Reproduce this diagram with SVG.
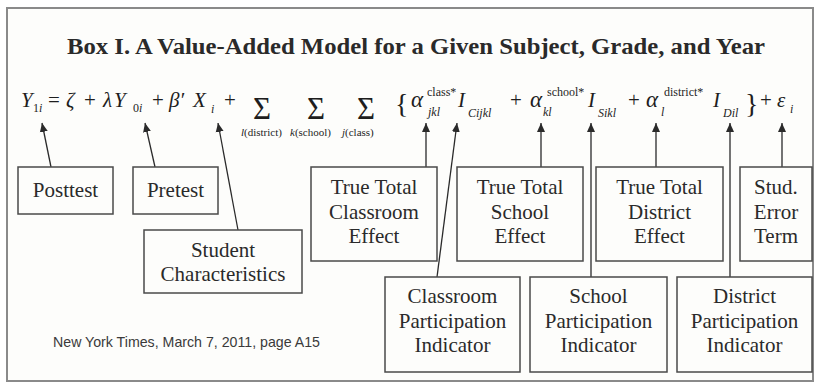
<svg xmlns="http://www.w3.org/2000/svg" width="814" height="383" viewBox="0 0 814 383" font-family="'Liberation Serif', 'Times New Roman', Times, serif">
<defs>
<marker id="ah" markerWidth="10" markerHeight="10" refX="9" refY="5" orient="auto" markerUnits="userSpaceOnUse">
<path d="M0,1 L9,5 L0,9 Z" fill="#2a2a2a"/>
</marker>
</defs>
<rect x="7" y="8" width="806" height="373" fill="#fdfdfb" stroke="#8a8a8a" stroke-width="2"/>
<text font-family="Liberation Serif" font-size="24" font-weight="bold" fill="#2a2a2a" x="67" y="54" textLength="698" lengthAdjust="spacingAndGlyphs">Box I.  A Value-Added Model for a Given Subject, Grade, and Year</text>

<g id="equation" fill="#1e1e1e">
<text font-family="Liberation Serif" font-size="21" font-style="italic" x="21" y="107">Y</text>
<text font-family="Liberation Serif" font-size="12" x="33" y="112">1<tspan font-style="italic">i</tspan></text>
<text font-family="Liberation Serif" font-size="21" x="48" y="107">=</text>
<text font-family="Liberation Serif" font-size="21" font-style="italic" x="66" y="107">ζ</text>
<text font-family="Liberation Serif" font-size="21" x="84" y="107">+</text>
<text font-family="Liberation Serif" font-size="21" font-style="italic" x="103" y="107">λ</text>
<text font-family="Liberation Serif" font-size="21" font-style="italic" x="114" y="107">Y</text>
<text font-family="Liberation Serif" font-size="12" x="133" y="112">0<tspan font-style="italic">i</tspan></text>
<text font-family="Liberation Serif" font-size="21" x="152" y="107">+</text>
<text font-family="Liberation Serif" font-size="21" font-style="italic" x="169" y="107">β′</text>
<text font-family="Liberation Serif" font-size="21" font-style="italic" x="193" y="107">X</text>
<text font-family="Liberation Serif" font-size="12" font-style="italic" x="211" y="113">i</text>
<text font-family="Liberation Serif" font-size="21" x="224" y="107">+</text>
<text font-family="Liberation Serif" font-size="31" text-anchor="middle" x="262" y="119">Σ</text>
<text font-family="Liberation Serif" font-size="31" text-anchor="middle" x="316" y="119">Σ</text>
<text font-family="Liberation Serif" font-size="31" text-anchor="middle" x="366" y="119">Σ</text>
<text font-family="Liberation Serif" font-size="11" x="241" y="136"><tspan font-style="italic">l</tspan>(district)</text>
<text font-family="Liberation Serif" font-size="11" x="290" y="136"><tspan font-style="italic">k</tspan>(school)</text>
<text font-family="Liberation Serif" font-size="11" x="342" y="136"><tspan font-style="italic">j</tspan>(class)</text>
<text font-family="Liberation Serif" font-size="28" x="395" y="113">{</text>
<text font-family="Liberation Serif" font-size="23" font-style="italic" x="411" y="107">α</text>
<text font-family="Liberation Serif" font-size="12" x="427" y="96">class*</text>
<text font-family="Liberation Serif" font-size="12" font-style="italic" x="428" y="116">jkl</text>
<text font-family="Liberation Serif" font-size="21" font-style="italic" x="458" y="107">I</text>
<text font-family="Liberation Serif" font-size="12" font-style="italic" x="468" y="117">Cijkl</text>
<text font-family="Liberation Serif" font-size="21" x="510" y="107">+</text>
<text font-family="Liberation Serif" font-size="23" font-style="italic" x="530" y="107">α</text>
<text font-family="Liberation Serif" font-size="12" x="547" y="96">school*</text>
<text font-family="Liberation Serif" font-size="12" font-style="italic" x="543" y="116">kl</text>
<text font-family="Liberation Serif" font-size="21" font-style="italic" x="588" y="107">I</text>
<text font-family="Liberation Serif" font-size="12" font-style="italic" x="598" y="117">Sikl</text>
<text font-family="Liberation Serif" font-size="21" x="628" y="107">+</text>
<text font-family="Liberation Serif" font-size="23" font-style="italic" x="646" y="107">α</text>
<text font-family="Liberation Serif" font-size="12" x="664" y="96">district*</text>
<text font-family="Liberation Serif" font-size="12" font-style="italic" x="661" y="116">l</text>
<text font-family="Liberation Serif" font-size="21" font-style="italic" x="713" y="107">I</text>
<text font-family="Liberation Serif" font-size="12" font-style="italic" x="723" y="117">Dil</text>
<text font-family="Liberation Serif" font-size="28" x="745" y="113">}</text>
<text font-family="Liberation Serif" font-size="21" x="760" y="107">+</text>
<text font-family="Liberation Serif" font-size="21" font-style="italic" x="777" y="107">ε</text>
<text font-family="Liberation Serif" font-size="12" font-style="italic" x="790" y="113">i</text>
</g>

<g id="connectors" stroke="#2a2a2a" stroke-width="1.3" marker-end="url(#ah)">
<line x1="51" y1="167" x2="42" y2="123"/>
<line x1="155" y1="167" x2="145" y2="123"/>
<line x1="238" y1="230" x2="218" y2="123"/>
<line x1="426" y1="167" x2="426" y2="123"/>
<line x1="437" y1="277" x2="457" y2="123"/>
<line x1="541" y1="167" x2="541" y2="123"/>
<line x1="591" y1="277" x2="591" y2="123"/>
<line x1="656" y1="167" x2="656" y2="123"/>
<line x1="730" y1="277" x2="730" y2="123"/>
<line x1="782" y1="167" x2="782" y2="123"/>
</g>

<g id="nodes" fill="#fdfdfb" stroke="#4a4a4a" stroke-width="1.5">
<g id="posttest"><rect x="18" y="167" width="95" height="47"/></g>
<g id="pretest"><rect x="133" y="167" width="85" height="47"/></g>
<g id="student"><rect x="144" y="230" width="158" height="63"/></g>
<g id="classroom-effect"><rect x="311" y="167" width="126" height="94"/></g>
<g id="school-effect"><rect x="457" y="167" width="126" height="94"/></g>
<g id="district-effect"><rect x="596" y="167" width="127" height="94"/></g>
<g id="error"><rect x="740" y="167" width="72" height="94"/></g>
<g id="classroom-pi"><rect x="385" y="277" width="135" height="95"/></g>
<g id="school-pi"><rect x="530" y="277" width="137" height="95"/></g>
<g id="district-pi"><rect x="677" y="277" width="135" height="95"/></g>
</g>
<g id="node-labels" fill="#2a2a2a" text-anchor="middle">
<text font-family="Liberation Serif" font-size="21" x="65.5" y="197">Posttest</text>
<text font-family="Liberation Serif" font-size="21" x="175.5" y="197">Pretest</text>
<text font-family="Liberation Serif" font-size="21" x="223" y="257">Student</text>
<text font-family="Liberation Serif" font-size="21" x="223" y="281">Characteristics</text>
<text font-family="Liberation Serif" font-size="21" x="374" y="194">True Total</text>
<text font-family="Liberation Serif" font-size="21" x="374" y="219">Classroom</text>
<text font-family="Liberation Serif" font-size="21" x="374" y="243">Effect</text>
<text font-family="Liberation Serif" font-size="21" x="520" y="194">True Total</text>
<text font-family="Liberation Serif" font-size="21" x="520" y="219">School</text>
<text font-family="Liberation Serif" font-size="21" x="520" y="243">Effect</text>
<text font-family="Liberation Serif" font-size="21" x="659.5" y="194">True Total</text>
<text font-family="Liberation Serif" font-size="21" x="659.5" y="219">District</text>
<text font-family="Liberation Serif" font-size="21" x="659.5" y="243">Effect</text>
<text font-family="Liberation Serif" font-size="21" x="776" y="194">Stud.</text>
<text font-family="Liberation Serif" font-size="21" x="776" y="219">Error</text>
<text font-family="Liberation Serif" font-size="21" x="776" y="243">Term</text>
<text font-family="Liberation Serif" font-size="21" x="452.5" y="303">Classroom</text>
<text font-family="Liberation Serif" font-size="21" x="452.5" y="328">Participation</text>
<text font-family="Liberation Serif" font-size="21" x="452.5" y="352">Indicator</text>
<text font-family="Liberation Serif" font-size="21" x="598.5" y="303">School</text>
<text font-family="Liberation Serif" font-size="21" x="598.5" y="328">Participation</text>
<text font-family="Liberation Serif" font-size="21" x="598.5" y="352">Indicator</text>
<text font-family="Liberation Serif" font-size="21" x="744.5" y="303">District</text>
<text font-family="Liberation Serif" font-size="21" x="744.5" y="328">Participation</text>
<text font-family="Liberation Serif" font-size="21" x="744.5" y="352">Indicator</text>
</g>
<text font-family="Liberation Sans" font-size="15" fill="#3a3a3a" x="53" y="347" textLength="267" lengthAdjust="spacingAndGlyphs">New York Times, March 7, 2011, page A15</text>
</svg>
